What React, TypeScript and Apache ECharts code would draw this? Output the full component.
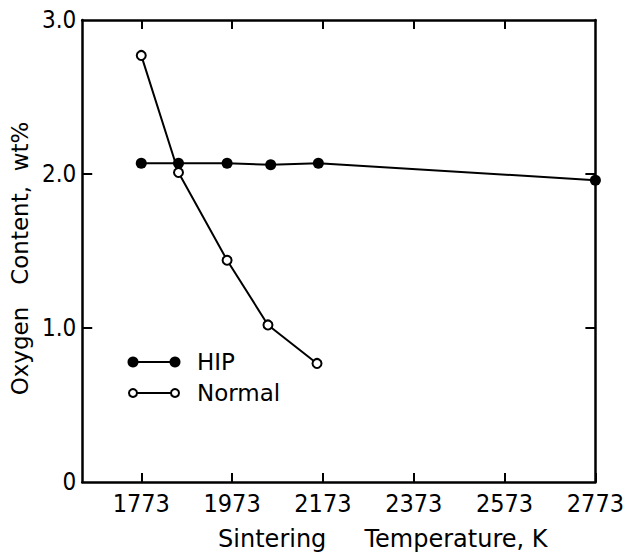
import React, { useEffect, useRef } from "react";
import * as echarts from "echarts";

const xTicks = [1773, 1973, 2173, 2373, 2573, 2773];
const yTicks = [0, 1, 2, 3];
const hipTemps = [1773, 1855, 1962, 2058, 2163, 2773];
const hipValues = [2.07, 2.07, 2.07, 2.06, 2.07, 1.96];
const normalTemps = [1773, 1855, 1962, 2052, 2160];
const normalValues = [2.77, 2.01, 1.44, 1.02, 0.77];
const legendNames = ["HIP", "Normal"];

const NARROW = "'Liberation Sans Narrow', 'DejaVu Sans Condensed', sans-serif";
const FONT = "'DejaVu Sans', sans-serif";

export default function App() {
  const ref = useRef<HTMLDivElement>(null);
  useEffect(() => {
    if (!ref.current) return;
    const chart = echarts.init(ref.current, null, { renderer: "svg" });
    const axisLine = { show: true, onZero: false, lineStyle: { color: "#000", width: 2.5 } };
    const tickStyle = { color: "#000", width: 2 };
    const xMin = 1643;
    const xMax = 2773;
    chart.setOption({
      animation: false,
      backgroundColor: "#fff",
      grid: { left: 82, right: 31, top: 20, bottom: 71, containLabel: false },
      xAxis: [
        {
          type: "value",
          position: "bottom",
          min: xMin,
          max: xMax,
          axisLine,
          splitLine: { show: false },
          axisTick: { inside: true, length: 9, customValues: xTicks, lineStyle: tickStyle },
          axisLabel: {
            customValues: xTicks,
            color: "#000",
            fontSize: 25,
            fontFamily: NARROW,
            margin: 9,
            formatter: (v: number) => String(v),
          },
          name: "Sintering     Temperature, K",
          nameLocation: "middle",
          nameGap: 45,
          nameTextStyle: { color: "#000", fontSize: 24, fontFamily: FONT, padding: [0, 0, 0, 88] },
        },
        {
          type: "value",
          position: "top",
          min: xMin,
          max: xMax,
          axisLine,
          splitLine: { show: false },
          axisTick: { inside: true, length: 9, customValues: xTicks.slice(0, 5), lineStyle: tickStyle },
          axisLabel: { show: false },
        },
      ],
      yAxis: [
        {
          type: "value",
          position: "left",
          min: 0,
          max: 3,
          interval: 1,
          axisLine,
          splitLine: { show: false },
          axisTick: { inside: true, length: 10, customValues: yTicks.slice(1, 3), lineStyle: tickStyle },
          axisLabel: {
            customValues: yTicks,
            color: "#000",
            fontSize: 24,
            fontFamily: NARROW,
            margin: 6,
            formatter: (v: number) => (v === 0 ? "0" : v.toFixed(1)),
          },
          name: "Oxygen   Content,  wt%",
          nameLocation: "middle",
          nameGap: 45,
          nameRotate: 90,
          nameTextStyle: { color: "#000", fontSize: 23, fontFamily: FONT, padding: [0, 15, 0, 0] },
        },
        {
          type: "value",
          position: "right",
          min: 0,
          max: 3,
          interval: 1,
          axisLine,
          splitLine: { show: false },
          axisTick: { inside: true, length: 10, customValues: yTicks.slice(1, 3), lineStyle: tickStyle },
          axisLabel: { show: false },
        },
      ],
      series: [
        {
          name: legendNames[0],
          type: "line",
          data: hipTemps.map((t, i) => [t, hipValues[i]]),
          symbol: "circle",
          symbolSize: 11,
          itemStyle: { color: "#000" },
          lineStyle: { color: "#000", width: 2 },
          clip: false,
          z: 3,
        },
        {
          name: legendNames[1],
          type: "line",
          data: normalTemps.map((t, i) => [t, normalValues[i]]),
          symbol: "circle",
          symbolSize: 9,
          itemStyle: { color: "#fff", borderColor: "#000", borderWidth: 2 },
          lineStyle: { color: "#000", width: 2 },
          clip: false,
          z: 4,
        },
      ],
      graphic: [
        { type: "line", shape: { x1: 133, y1: 362, x2: 175, y2: 362 }, style: { stroke: "#000", lineWidth: 2 } },
        { type: "circle", shape: { cx: 133, cy: 362, r: 5.5 }, style: { fill: "#000" } },
        { type: "circle", shape: { cx: 175, cy: 362, r: 5.5 }, style: { fill: "#000" } },
        { type: "text", x: 197, y: 362, style: { text: legendNames[0], fill: "#000", font: `23px ${FONT}`, verticalAlign: "middle" } },
        { type: "line", shape: { x1: 133, y1: 393, x2: 175, y2: 393 }, style: { stroke: "#000", lineWidth: 2 } },
        { type: "circle", shape: { cx: 133, cy: 393, r: 4 }, style: { fill: "#fff", stroke: "#000", lineWidth: 2 }, z: 10 },
        { type: "circle", shape: { cx: 175, cy: 393, r: 4 }, style: { fill: "#fff", stroke: "#000", lineWidth: 2 }, z: 10 },
        { type: "text", x: 197, y: 393, style: { text: legendNames[1], fill: "#000", font: `23px ${FONT}`, verticalAlign: "middle" } },
      ],
    });
    return () => chart.dispose();
  }, []);
  return <div ref={ref} style={{ width: 627, height: 556, position: "absolute", left: 0, top: 0 }} />;
}
